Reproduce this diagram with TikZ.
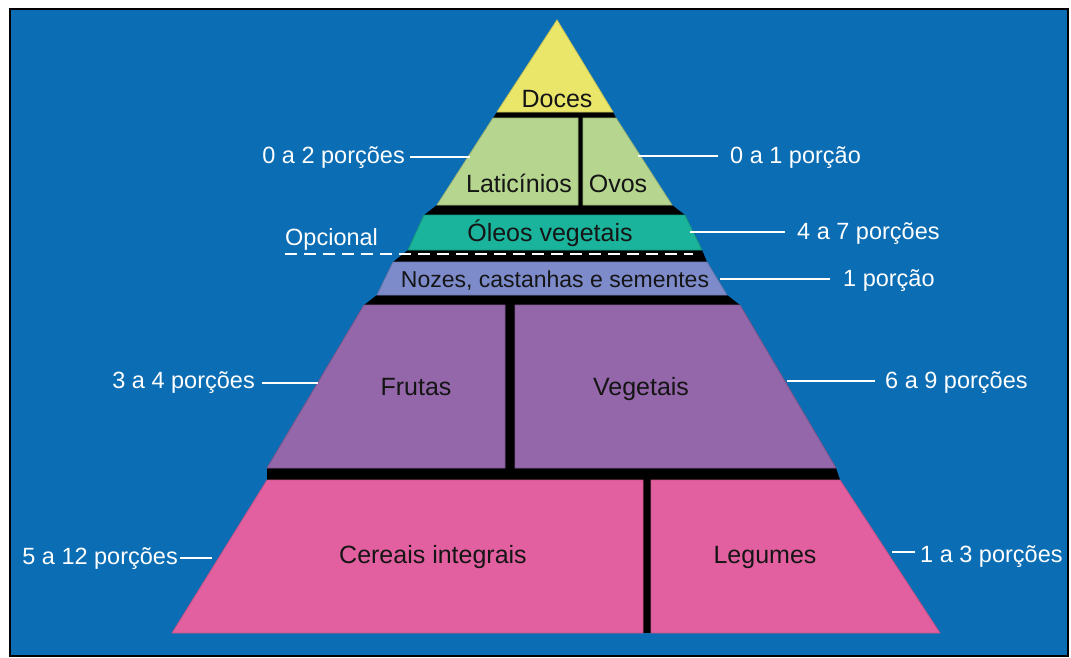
\documentclass[tikz,border=0pt]{standalone}
\usepackage{fontspec}
\setmainfont{Liberation Sans}
\definecolor{bgblue}{HTML}{0B6DB3}
\definecolor{cyellow}{HTML}{E9E66A}
\definecolor{cgreen}{HTML}{B6D68F}
\definecolor{cteal}{HTML}{1AB39B}
\definecolor{clav}{HTML}{7D8BCB}
\definecolor{cpurple}{HTML}{9367A9}
\definecolor{cpink}{HTML}{E2609F}
\definecolor{ink}{HTML}{151515}
\begin{document}
\begin{tikzpicture}[x=1pt,y=-1pt,
  band/.style={line width=0.8pt},
  inner/.style={text=ink,inner sep=0pt,font=\fontsize{25}{30}\selectfont},
  small/.style={text=ink,inner sep=0pt,font=\fontsize{23}{28}\selectfont},
  lbl/.style={text=white,inner sep=0pt,font=\fontsize{23.5}{28}\selectfont},
  leader/.style={white,line width=2.6pt},
  optline/.style={white,line width=2pt,dash pattern=on 12pt off 7pt}]
\useasboundingbox (0,0) rectangle (1071,657);
\fill[white] (0,0) rectangle (1071,657);
\fill[bgblue] (10,9) rectangle (1068,656);
\draw[black,line width=2pt] (10,9) rectangle (1068,656);

% black backing of the pyramid
\fill[black] (497,112) -- (493,118) -- (437,205) -- (424,215) -- (408,250) -- (393,262)
  -- (377,295) -- (364,305) -- (267,468) -- (267,480) -- (840,480) -- (836,468)
  -- (740,305) -- (727,295) -- (707,262) -- (702,250) -- (685,215) -- (672,205)
  -- (616,118) -- (613,112) -- cycle;
\fill[black] (643,470) rectangle (651,633);

% bands
\filldraw[band,fill=cyellow,draw=cyellow!85!black] (557,20) -- (613,112) -- (497,112) -- cycle;
\filldraw[band,fill=cgreen,draw=cgreen!85!black] (493,118) -- (578,118) -- (578,205) -- (437,205) -- cycle;
\filldraw[band,fill=cgreen,draw=cgreen!85!black] (583,118) -- (616,118) -- (672,205) -- (583,205) -- cycle;
\filldraw[band,fill=cteal,draw=cteal!85!black] (424,215) -- (685,215) -- (702,250) -- (408,250) -- cycle;
\filldraw[band,fill=clav,draw=clav!85!black] (393,262) -- (707,262) -- (727,295) -- (377,295) -- cycle;
\filldraw[band,fill=cpurple,draw=cpurple!85!black] (364,305) -- (505,305) -- (505,468) -- (267,468) -- cycle;
\filldraw[band,fill=cpurple,draw=cpurple!85!black] (515,305) -- (740,305) -- (836,468) -- (515,468) -- cycle;
\filldraw[band,fill=cpink,draw=cpink!85!black] (267,480) -- (643,480) -- (643,633) -- (172,633) -- cycle;
\filldraw[band,fill=cpink,draw=cpink!85!black] (651,480) -- (840,480) -- (940,633) -- (651,633) -- cycle;

% band texts
\node[inner,anchor=base] (doces) at (557,107) {Doces};
\node[inner,anchor=base] (latic) at (519,192) {Laticínios};
\node[inner,anchor=base] (ovos) at (618,192) {Ovos};
\node[inner,anchor=base] (oleos) at (550,241) {Óleos vegetais};
\node[small,anchor=base] (nozes) at (555,287) {Nozes, castanhas e sementes};
\node[inner,anchor=base] (frutas) at (416,395) {Frutas};
\node[inner,anchor=base] (veget) at (641,395) {Vegetais};
\node[inner,anchor=base] (cereais) at (433,563) {Cereais integrais};
\node[inner,anchor=base] (legumes) at (765,563) {Legumes};

% side labels
\node[lbl,anchor=base east] (l02) at (405,163) {0 a 2 porções};
\node[lbl,anchor=base west] (l01) at (730,163) {0 a 1 porção};
\node[lbl,anchor=base west] (lopc) at (285,245) {Opcional};
\node[lbl,anchor=base west] (l47) at (797,239) {4 a 7 porções};
\node[lbl,anchor=base west] (l1) at (843,286) {1 porção};
\node[lbl,anchor=base east] (l34) at (255,388) {3 a 4 porções};
\node[lbl,anchor=base west] (l69) at (885,388) {6 a 9 porções};
\node[lbl,anchor=base east] (l512) at (178,564) {5 a 12 porções};
\node[lbl,anchor=base west] (l13) at (920,562) {1 a 3 porções};

% leader end points on the pyramid
\coordinate (e02) at (470,157);
\coordinate (e01) at (638,156);
\coordinate (eopc) at (693,254);
\coordinate (e47) at (690,232);
\coordinate (e1) at (720,279);
\coordinate (e34) at (318,383);
\coordinate (e69) at (787,381);
\coordinate (e512) at (212,558);
\coordinate (e13) at (892,552);

\draw[leader] ([xshift=5pt]l02.east |- e02) -- (e02);
\draw[leader] ([xshift=-12pt]l01.west |- e01) -- (e01);
\draw[optline] (lopc.west |- eopc) -- (eopc);
\draw[leader] ([xshift=-12pt]l47.west |- e47) -- (e47);
\draw[leader] ([xshift=-13pt]l1.west |- e1) -- (e1);
\draw[leader] ([xshift=7pt]l34.east |- e34) -- (e34);
\draw[leader] ([xshift=-10pt]l69.west |- e69) -- (e69);
\draw[leader] ([xshift=2pt]l512.east |- e512) -- (e512);
\draw[leader] ([xshift=-5pt]l13.west |- e13) -- (e13);
\end{tikzpicture}
\end{document}
